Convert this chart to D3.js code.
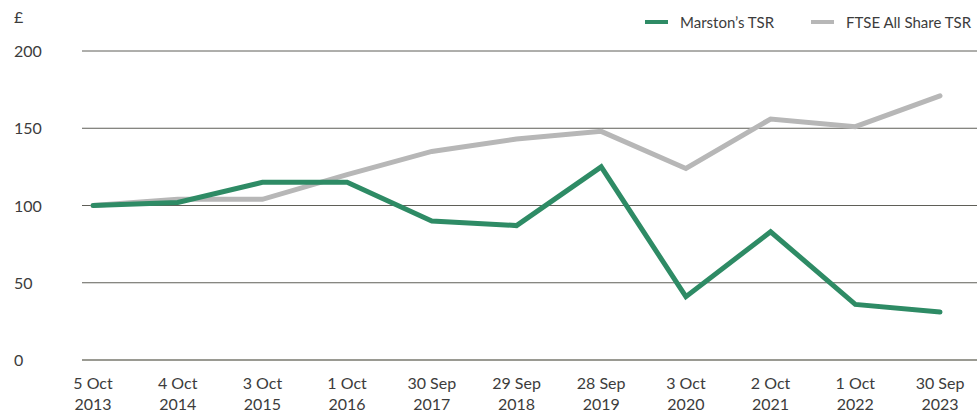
<!DOCTYPE html>
<html>
<head>
<meta charset="utf-8">
<script src="https://cdn.jsdelivr.net/npm/d3@7"></script>
<style>
  html, body { margin: 0; padding: 0; background: #fff; }
  svg text { font-family: "Lato", "Open Sans", sans-serif; fill: #3c3c3c; }
</style>
</head>
<body>
<svg id="chart" width="977" height="412"></svg>
<script>
// Period end dates (two-line labels)
const periods = [
  ["5 Oct", "2013"], ["4 Oct", "2014"], ["3 Oct", "2015"], ["1 Oct", "2016"],
  ["30 Sep", "2017"], ["29 Sep", "2018"], ["28 Sep", "2019"], ["3 Oct", "2020"],
  ["2 Oct", "2021"], ["1 Oct", "2022"], ["30 Sep", "2023"]
];
// Value of £100 invested, total shareholder return
const marstonsTSR = [100, 102, 115, 115, 90, 87, 125, 41, 83, 36, 31];
const ftseAllShareTSR = [100, 104, 104, 120, 135, 143, 148, 124, 156, 151, 171];
const yTicks = [0, 50, 100, 150, 200];

const seriesList = [
  { name: "Marston\u2019s TSR", values: marstonsTSR, color: "#2e8b65" },
  { name: "FTSE All Share TSR", values: ftseAllShareTSR, color: "#b7b7b7" }
];

const svg = d3.select("#chart");
const gridLeft = 82, gridRight = 977;

const x = d3.scalePoint().domain(d3.range(periods.length)).range([93, 940]);
const y = d3.scaleLinear().domain([0, 200]).range([360, 51]);

// Horizontal gridlines
svg.append("g").selectAll("line").data(yTicks).join("line")
  .attr("x1", gridLeft).attr("x2", gridRight)
  .attr("y1", d => y(d)).attr("y2", d => y(d))
  .attr("stroke", d => d === 0 ? "#9a9a92" : "#5f5f58")
  .attr("stroke-width", d => d === 0 ? 2 : 1);

// Y tick labels, centred on their gridlines
svg.append("g").selectAll("text").data(yTicks).join("text")
  .attr("x", 14).attr("y", d => y(d) + 6)
  .attr("font-size", 16)
  .text(d => d);

// Currency unit
svg.append("text").attr("x", 14).attr("y", 23).attr("font-size", 16).text("£");

// X axis labels
const xl = svg.append("g").selectAll("text").data(periods).join("text")
  .attr("text-anchor", "middle")
  .attr("font-size", 16);
xl.append("tspan").attr("x", (d, i) => x(i)).attr("y", 389).text(d => d[0]);
xl.append("tspan").attr("x", (d, i) => x(i)).attr("y", 410).text(d => d[1]);

// Lines (FTSE drawn first, Marston's on top)
const line = d3.line().x((d, i) => x(i)).y(d => y(d));
svg.append("g").selectAll("path").data(seriesList.slice().reverse()).join("path")
  .attr("d", s => line(s.values))
  .attr("fill", "none")
  .attr("stroke", s => s.color)
  .attr("stroke-width", 5)
  .attr("stroke-linejoin", "miter")
  .attr("stroke-linecap", "round");

// Legend
const legendPos = [{ lx: 645, tx: 680 }, { lx: 811, tx: 846 }];
const lg = svg.append("g").selectAll("g").data(seriesList).join("g");
lg.append("line")
  .attr("x1", (d, i) => legendPos[i].lx).attr("x2", (d, i) => legendPos[i].lx + 23)
  .attr("y1", 22).attr("y2", 22)
  .attr("stroke", d => d.color).attr("stroke-width", 4);
lg.append("text")
  .attr("x", (d, i) => legendPos[i].tx).attr("y", 28)
  .attr("font-size", 15)
  .text(d => d.name);
</script>
</body>
</html>
